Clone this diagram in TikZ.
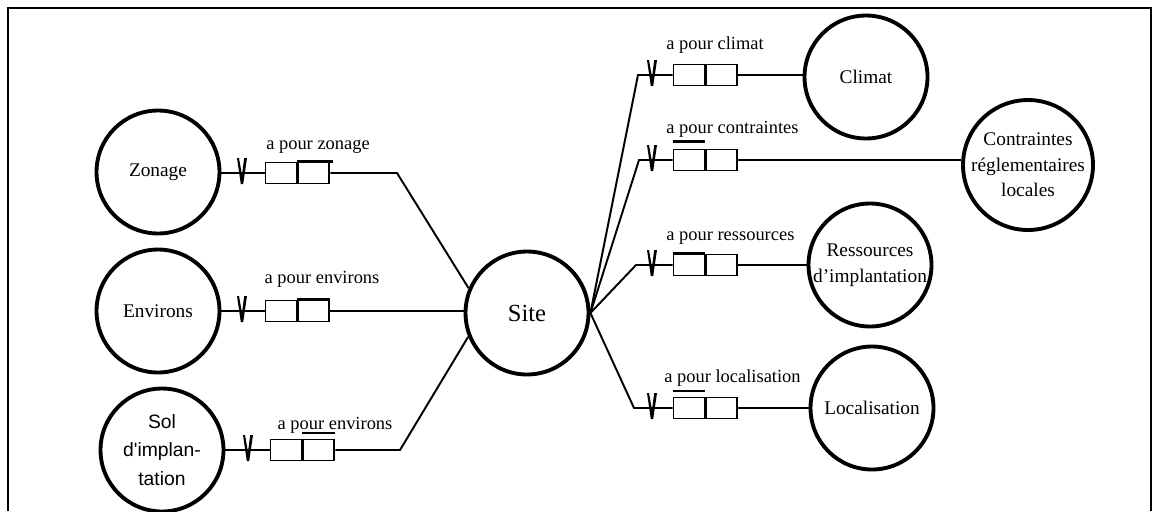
\documentclass[tikz,border=0pt]{standalone}
\usepackage{fontspec}
\setmainfont{Liberation Serif}
\newfontfamily\solfont{Liberation Sans}
\begin{document}
\begin{tikzpicture}[x=0.02cm,y=-0.02cm,
  ent/.style={circle,draw,line width=2.2pt,inner sep=0pt,minimum size=2.46cm,align=center,font=\fontsize{11}{14.5}\selectfont},
  cell/.style={draw,line width=1.1pt,minimum width=0.62cm,minimum height=0.42cm,inner sep=0pt},
  conn/.style={line width=1.1pt},
  lbl/.style={font=\fontsize{10.5}{12}\selectfont,inner sep=0pt},
  bar/.style={line width=1.8pt},
  thinbar/.style={line width=1.2pt},
  frame/.style={line width=0.8pt},
  vmark/.pic={\fill (-5,-15) -- (-1.2,11) -- (1.2,11) -- (5,-15) -- (2.2,-15) -- (0,2) -- (-3,-15) -- cycle;}
]
\useasboundingbox (0,0) rectangle (1158,511);
\draw[frame] (8,511) -- (8,8) -- (1151,8) -- (1151,511);

% entities
\node[ent] (zon) at (158,172) {Zonage};
\node[ent] (env) at (158,311) {Environs};
\node[ent,font=\solfont\fontsize{11}{16}\selectfont] (sol) at (162,450) {Sol\\d'implan-\\tation};
\node[ent,font=\fontsize{14}{16}\selectfont] (site) at (527,313) {Site};
\node[ent] (cli) at (866,77) {Climat};
\node[ent] (con) at (1028,165) {Contraintes\\réglementaires\\locales};
\node[ent] (res) at (870,265) {Ressources\\d'implantation};
\node[ent] (loc) at (872,408) {Localisation};

% relation boxes
\node[cell] (za) at (281,173) {};
\node[cell,anchor=west] (zb) at (za.east) {};
\node[cell] (ea) at (281,311) {};
\node[cell,anchor=west] (eb) at (ea.east) {};
\node[cell] (sa) at (286,450) {};
\node[cell,anchor=west] (sb) at (sa.east) {};
\node[cell] (ca) at (689,75) {};
\node[cell,anchor=west] (cb) at (ca.east) {};
\node[cell] (na) at (689,160) {};
\node[cell,anchor=west] (nb) at (na.east) {};
\node[cell] (ra) at (689,265) {};
\node[cell,anchor=west] (rb) at (ra.east) {};
\node[cell] (la) at (689,408) {};
\node[cell,anchor=west] (lb) at (la.east) {};

% bars
\draw[bar] (zb.north west) -- ([xshift=1.5pt]zb.north east);
\draw[bar] (eb.north west) -- (eb.north east);
\draw[thinbar] ([yshift=3pt]sb.north west) -- ([yshift=3pt]sb.north east);
\draw[thinbar] ([yshift=4pt]na.north west) -- ([yshift=4pt]na.north east);
\draw[bar] (ra.north west) -- (ra.north east);
\draw[thinbar] ([yshift=3pt]la.north west) -- ([yshift=3pt]la.north east);

% labels
\node[lbl] (lz) at (318,147) {a pour zonage};
\node[lbl] (le) at (322,279) {a pour environs};
\node[lbl] (ls) at (335,425) {a pour environs};
\node[lbl,anchor=west] (lc) at (666,45) {a pour climat};
\node[lbl,anchor=west] (ln) at (666,129) {a pour contraintes};
\node[lbl,anchor=west] (lr) at (666,238) {a pour ressources};
\node[lbl,anchor=west] (ll) at (664,378) {a pour localisation};

% connectors left
\coordinate (zk) at (397,173);
\coordinate (sk) at (400,450);
\draw[conn] (za.west -| zon.east) -- (za.west);
\draw[conn] (zb.east) -- (zk) -- (site.157);
\draw[conn] (ea.west -| env.east) -- (ea.west);
\draw[conn] (eb.east) -- (eb.east -| site.west);
\draw[conn] (sa.west -| sol.east) -- (sa.west);
\draw[conn] (sb.east) -- (sk) -- (site.202);

% connectors right
\coordinate (ck) at (638,75);
\coordinate (nk) at (639,160);
\coordinate (rk) at (636,265);
\coordinate (lk) at (634,408);
\draw[conn] (site.east) -- (ck) -- (ca.west);
\draw[conn] (site.east) -- (nk) -- (na.west);
\draw[conn] (site.east) -- (rk) -- (ra.west);
\draw[conn] (site.east) -- (lk) -- (la.west);
\draw[conn] (cb.east) -- (cb.east -| cli.west);
\draw[conn] (nb.east) -- (nb.east -| con.west);
\draw[conn] (rb.east) -- (rb.east -| res.west);
\draw[conn] (lb.east) -- (lb.east -| loc.west);

% V marks
\pic at (242,173) {vmark};
\pic at (242,311) {vmark};
\pic at (248,450) {vmark};
\pic at (652,75) {vmark};
\pic at (652,160) {vmark};
\pic at (652,265) {vmark};
\pic at (652,408) {vmark};
\end{tikzpicture}
\end{document}
